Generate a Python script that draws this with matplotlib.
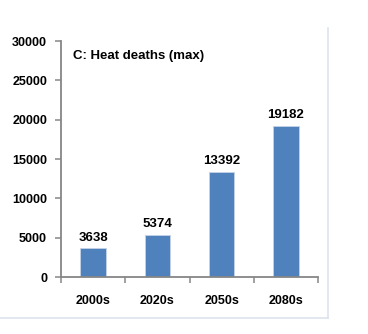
import matplotlib.pyplot as plt
import matplotlib.lines as mlines

# ------------------- Data -------------------
decades = ['2000s', '2020s', '2050s', '2080s']
deaths = [3638, 5374, 13392, 19182]
y_ticks = [0, 5000, 10000, 15000, 20000, 25000, 30000]

plt.rcParams['font.family'] = ['Liberation Sans Narrow', 'Liberation Sans', 'DejaVu Sans']

# ------------------- Figure layout -------------------
fig = plt.figure(figsize=(3.68, 3.34), dpi=100)
W, H = 368, 334
ax1 = fig.add_axes([61 / W, 1 - 277 / H, (318 - 61) / W, (277 - 41) / H])

axis_grey = '#868686'
for side in ['top', 'right']:
    ax1.spines[side].set_visible(False)
for side in ['left', 'bottom']:
    ax1.spines[side].set_color(axis_grey)
    ax1.spines[side].set_linewidth(1.3)

# ------------------- Bars -------------------
x = list(range(len(decades)))
bars = ax1.bar(x, deaths, width=0.4, color='#4F81BD', edgecolor='#c5d3e8', linewidth=0.6)
for xi, v in zip(x, deaths):
    ax1.text(xi, v + 600, str(v), ha='center', va='bottom', fontsize=9.5, fontweight='bold')

ax1.set_xlim(-0.5, len(decades) - 0.5)
ax1.set_ylim(0, 30000)
ax1.set_yticks(y_ticks)
ax1.set_yticklabels([str(t) for t in y_ticks], fontsize=9, fontweight='bold')
ax1.tick_params(axis='y', length=4, width=1.1, color=axis_grey, pad=6)

# x ticks sit between categories, labels centred under bars
ax1.set_xticks([i + 0.5 for i in range(-1, len(decades))])
ax1.set_xticklabels([])
ax1.tick_params(axis='x', length=4, width=1.1, color=axis_grey)
for xi, lab in zip(x, decades):
    ax1.text(xi, -0.075, lab, transform=ax1.get_xaxis_transform(), ha='center', va='top',
             fontsize=9, fontweight='bold')

ax1.text(0.047, 0.935, 'C: Heat deaths (max)', transform=ax1.transAxes, ha='left', va='center',
         fontsize=9.5, fontweight='bold')

# faint chart-area border on the right and bottom
frame_col = '#dde3ee'
fig.add_artist(mlines.Line2D([328 / W, 328 / W], [1 - 28 / H, 1 - 318 / H], color=frame_col,
                             linewidth=1.2, transform=fig.transFigure))
fig.add_artist(mlines.Line2D([0, 328 / W], [1 - 318 / H, 1 - 318 / H], color=frame_col,
                             linewidth=1.2, transform=fig.transFigure))

plt.savefig('out.png', dpi=100)
